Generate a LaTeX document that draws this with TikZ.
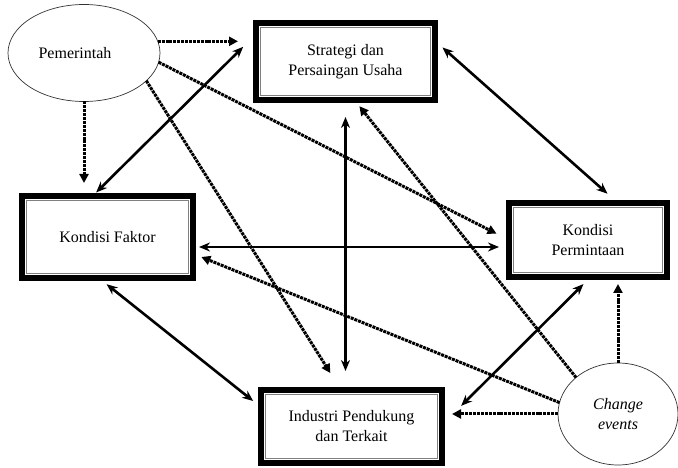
\documentclass[tikz,border=0pt]{standalone}
\usepackage{fontspec}
\setmainfont{Liberation Serif}
\usepackage{tikz}
\usetikzlibrary{shapes,arrows.meta}

\begin{document}
\begin{tikzpicture}[x=1pt,y=1pt,
  kotak/.style={draw, line width=6pt, outer sep=0pt, align=center, inner sep=0pt},
  elips/.style={draw=black!80, ellipse, line width=0.7pt, outer sep=0pt, align=center, inner sep=0pt},
  panah/.style={{Stealth[length=11pt,width=9pt]}-{Stealth[length=11pt,width=9pt]}, line width=2.6pt},
  putus/.style={-{Triangle[length=9pt,width=9pt]}, line width=3pt, dash pattern=on 3pt off 0.9pt}]

  \fontsize{16}{20}\selectfont
  \useasboundingbox (0,0) rectangle (678,468);

  % nodes
  \node[elips, minimum width=152pt, minimum height=97pt] (pem) at (84,415) {Pemerintah\hspace{18pt}};
  \node[kotak, minimum width=179pt, minimum height=77pt] (strat) at (345.5,406.5) {Strategi dan\\Persaingan Usaha};
  \node[kotak, minimum width=171pt, minimum height=82pt] (faktor) at (107.5,231) {Kondisi Faktor};
  \node[kotak, minimum width=158pt, minimum height=74pt] (perm) at (588,228) {Kondisi\\Permintaan};
  \node[kotak, minimum width=181pt, minimum height=73pt] (ind) at (351.5,41.5) {Industri Pendukung\\dan Terkait};
  \node[elips, minimum width=120pt, minimum height=102pt] (chg) at (618,54) {\itshape Change\\\itshape events};

  \foreach \k in {strat,faktor,perm,ind}
    \draw[gray, line width=1.2pt] ([shift={(4.5pt,4.5pt)}]\k.south west) rectangle ([shift={(-4.5pt,-4.5pt)}]\k.north east);

  % dotted
  \draw[putus, shorten >=18pt] (pem.9) -- (pem.9 -| strat.west); % Pem->Strat
  \draw[putus, shorten >=13pt] (pem.south) -- (pem.south |- faktor.north); % Pem->Faktor
  \draw[putus, shorten >=14pt] (pem.-7.5) -- (perm.west); % Pem->Perm
  \draw[putus, shorten >=20pt] (pem.-24) -- (ind.106); % Pem->Ind
  \draw[putus, shorten >=9pt] (chg.169) -- (faktor.-11); % Chg->Faktor
  \draw[putus, shorten >=8pt] (chg.139) -- (strat.-77); % Chg->Strat
  \draw[putus, shorten >=7pt] (chg.north) -- (chg.north |- perm.south); % Chg->Perm
  \draw[putus, shorten >=10pt] (chg.west) -- (chg.west -| ind.east); % Chg->Ind

  % solid
  \draw[panah, shorten <=18pt, shorten >=5pt] (strat.163) -- (faktor.110); % Strat<->Faktor
  \draw[panah, shorten <=10pt, shorten >=14pt] (strat.13) -- (perm.51); % Strat<->Perm
  \draw[panah, shorten <=17pt, shorten >=19pt] (strat.south) -- (strat.south |- ind.north); % Strat<->Ind
  \draw[panah, shorten <=6pt, shorten >=10pt] ([yshift=-10pt]faktor.east) -- ([yshift=-10pt]faktor.east -| perm.west); % Faktor<->Perm
  \draw[panah, shorten <=10pt, shorten >=10pt] (faktor.-102) -- (ind.168); % Faktor<->Ind
  \draw[panah, shorten <=27pt, shorten >=10pt] (ind.1) -- (perm.-86); % Ind<->Perm

\end{tikzpicture}
\end{document}
